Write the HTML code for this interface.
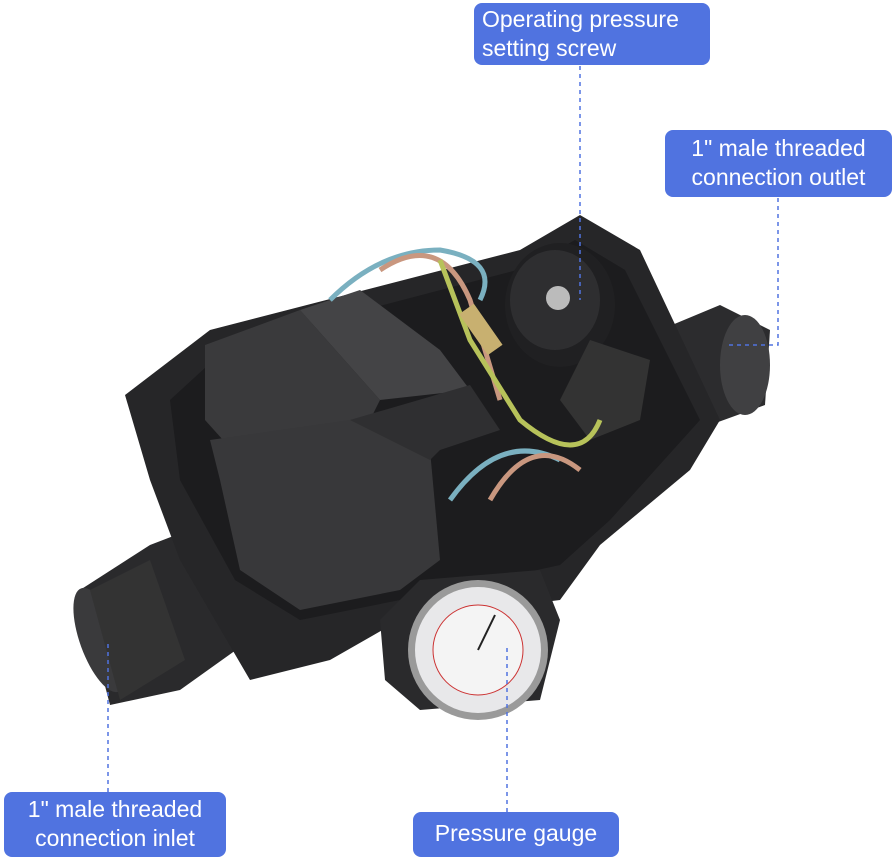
<!DOCTYPE html>
<html><head><meta charset="utf-8"><style>
html,body{margin:0;padding:0;background:#fff;width:895px;height:859px;overflow:hidden}
svg{position:absolute;left:0;top:0}
.lb{position:absolute;background:#5073e0;color:#fff;font-family:"Liberation Sans",sans-serif;font-size:23px;line-height:29px;border-radius:8px;box-sizing:border-box;padding:2px 8px}
</style></head><body>
<svg width="895" height="859" viewBox="0 0 895 859">
<!-- inlet pipe -->
<path d="M80 590 L150 545 L215 520 L250 640 L180 690 L110 705 Z" fill="#2a2a2c"/>
<ellipse cx="100" cy="640" rx="20" ry="55" fill="#3a3a3c" transform="rotate(-20 100 640)"/>
<path d="M90 590 L150 560 L185 660 L120 700 Z" fill="#333"/>
<!-- outlet pipe -->
<path d="M660 330 L720 305 L770 330 L765 405 L710 425 L670 410 Z" fill="#2c2c2e"/>
<ellipse cx="745" cy="365" rx="25" ry="50" fill="#404042"/>
<!-- main body -->
<path d="M125 395 L210 330 L520 250 L580 215 L640 250 L720 420 L690 470 L600 545 L560 600 L400 620 L330 660 L250 680 L180 560 L150 480 Z" fill="#262628"/>
<path d="M170 400 L230 345 L525 268 L575 240 L625 270 L700 420 L610 520 L560 565 L400 600 L300 620 L235 580 L180 480 Z" fill="#1c1c1e"/>
<!-- inner module -->
<path d="M205 345 L300 310 L380 400 L360 440 L250 470 L205 420 Z" fill="#3a3a3c"/>
<path d="M300 310 L360 290 L440 350 L470 390 L380 400 Z" fill="#444446"/>
<path d="M210 440 L350 420 L430 450 L440 560 L400 590 L300 610 L240 570 L220 480 Z" fill="#38383a"/>
<path d="M350 420 L470 385 L500 430 L440 450 L430 460 Z" fill="#2f2f31"/>
<!-- dial -->
<ellipse cx="560" cy="305" rx="55" ry="62" fill="#202022"/>
<ellipse cx="555" cy="300" rx="45" ry="50" fill="#2e2e30"/>
<circle cx="558" cy="298" r="12" fill="#bbb"/>
<path d="M590 340 L650 360 L640 420 L590 440 L560 400 Z" fill="#333"/>
<!-- wires -->
<g fill="none" stroke-width="5">
<path d="M330 300 Q380 250 440 250 Q500 260 480 300" stroke="#7ab0c0"/>
<path d="M380 270 Q440 230 470 300 L500 400" stroke="#c9977f"/>
<path d="M440 260 L470 340 L520 420 Q580 470 600 420" stroke="#b7c25a"/>
<path d="M450 500 Q500 430 560 460" stroke="#7ab0c0"/>
<path d="M490 500 Q530 430 580 470" stroke="#c9977f"/>
</g>
<rect x="455" y="320" width="50" height="18" fill="#c8b070" transform="rotate(55 480 330)"/>
<!-- gauge housing -->
<path d="M380 620 L420 580 L540 570 L560 620 L540 700 L420 710 L385 680 Z" fill="#2a2a2c"/>
<circle cx="478" cy="650" r="70" fill="#9a9a9a"/>
<circle cx="478" cy="650" r="63" fill="#e8e8ea"/>
<circle cx="478" cy="650" r="45" fill="#f4f4f4" stroke="#c33" stroke-width="1"/>
<line x1="478" y1="650" x2="495" y2="615" stroke="#222" stroke-width="2"/>
<!-- dashed leader lines -->
<g stroke="#5073e0" stroke-width="1.5" stroke-dasharray="4 4" fill="none">
<path d="M580 66 V300"/>
<path d="M778 198 V345 H727"/>
<path d="M108 792 V640"/>
<path d="M507 812 V645"/>
</g>
</svg>
<div class="lb" style="left:474px;top:3px;width:236px;height:62px">Operating pressure<br>setting screw</div>
<div class="lb" style="left:665px;top:130px;width:227px;height:67px;padding-top:4px;text-align:center">1" male threaded<br>connection outlet</div>
<div class="lb" style="left:4px;top:792px;width:222px;height:65px;padding-top:3px;text-align:center">1" male threaded<br>connection inlet</div>
<div class="lb" style="left:413px;top:812px;width:206px;height:45px;padding-top:7px;text-align:center">Pressure gauge</div>
</body></html>
